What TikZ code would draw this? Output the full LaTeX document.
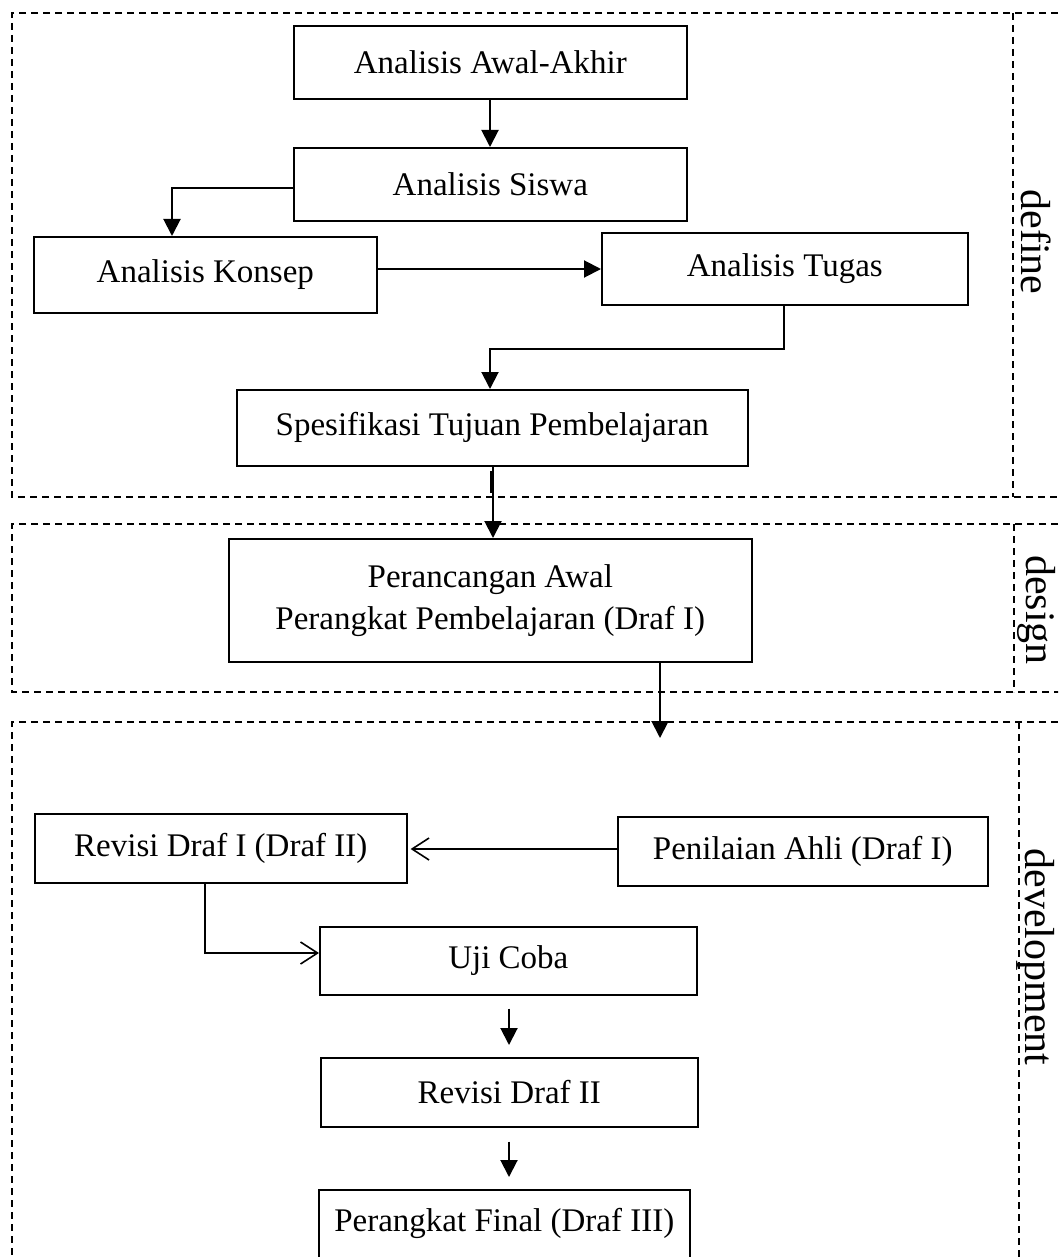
\documentclass[tikz,border=0pt]{standalone}
\usepackage{fontspec}
\setmainfont{Liberation Serif}
\usetikzlibrary{arrows.meta}
\begin{document}
\begin{tikzpicture}[x=1pt,y=-1pt,
  box/.style={draw, line width=1.6pt, inner sep=0pt, anchor=north west, align=center,
              font=\fontsize{33}{42}\selectfont},
  conn/.style={line width=2pt},
  fillarrow/.style={conn, -{Triangle[length=17pt,width=17pt]}},
  openarrow/.style={line width=1.6pt, -{Straight Barb[length=17pt,width=22pt,line width=1.6pt]}},
  region/.style={line width=1.6pt, dash pattern=on 7pt off 5pt},
  phase/.style={rotate=-90, font=\fontsize{42}{48}\selectfont, inner sep=0pt}]
\clip (0,0) rectangle (1058,1257);
\fill[white] (0,0) rectangle (1058,1257);

% regions
\draw[region] (1070,13) -- (12,13) -- (12,497) -- (1070,497);
\draw[region] (1013,13) -- (1013,497);
\draw[region] (1070,524) -- (12,524) -- (12,692) -- (1070,692);
\draw[region] (1014,524) -- (1014,692);
\draw[region] (1070,722) -- (12,722) -- (12,1275);
\draw[region] (1019,722) -- (1019,1275);

\node[phase] (ldef) at (1036,242) {define};
\node[phase] (ldes) at (1037,610) {design};
\node[phase] (ldev) at (1036,957) {development};

% boxes
\node[box, minimum width=393pt, minimum height=73pt] (awal) at (293,25) {Analisis Awal-Akhir};
\node[box, minimum width=393pt, minimum height=73pt] (siswa) at (293,147) {Analisis Siswa};
\node[box, minimum width=343pt, minimum height=76pt] (konsep) at (33,236) {Analisis Konsep};
\node[box, minimum width=366pt, minimum height=72pt] (tugas) at (601,232) {Analisis Tugas};
\node[box, minimum width=511pt, minimum height=76pt] (spes) at (236,389) {Spesifikasi Tujuan Pembelajaran};
\node[box, minimum width=523pt, minimum height=123pt] (ranc) at (228,538) {Perancangan Awal\\Perangkat Pembelajaran (Draf I)};
\node[box, minimum width=372pt, minimum height=69pt] (rev1) at (34,813) {Revisi Draf I (Draf II)};
\node[box, minimum width=370pt, minimum height=69pt] (nilai) at (617,816) {Penilaian Ahli (Draf I)};
\node[box, minimum width=377pt, minimum height=68pt] (uji) at (319,926) {Uji Coba};
\node[box, minimum width=377pt, minimum height=69pt] (rev2) at (320,1057) {Revisi Draf II};
\node[box, minimum width=371pt, minimum height=76pt] (final) at (318,1189) {\raisebox{-4pt}[0pt][0pt]{Perangkat Final (Draf III)}};

\coordinate (devin) at (660,738);

% connectors
\draw[fillarrow] (awal.south -| 490,0) -- (siswa.north -| 490,0);
\draw[fillarrow] (siswa.west |- 0,188) -| (konsep.north -| 172,0);
\draw[fillarrow] (konsep.east |- 0,269) -- (tugas.west |- 0,269);
\draw[fillarrow] (tugas.south -| 784,0) -- (784,349) -| (spes.north -| 490,0);
\draw[fillarrow] (spes.south -| 493,0) -- (ranc.north -| 493,0);
\draw[line width=3.5pt] ([yshift=-4pt]spes.south -| 492,0) -- ++(0,22);
\draw[fillarrow] (ranc.south -| 660,0) -- (devin);
\draw[openarrow] (nilai.west |- 0,849) -- ([xshift=3pt]rev1.east |- 0,849);
\draw[openarrow] (rev1.south -| 205,0) |- (uji.west |- 0,953);
\draw[fillarrow, shorten <=13pt, shorten >=12pt] (uji.south -| 509,0) -- (rev2.north -| 509,0);
\draw[fillarrow, shorten <=14pt, shorten >=12pt] (rev2.south -| 509,0) -- (final.north -| 509,0);
\end{tikzpicture}
\end{document}
